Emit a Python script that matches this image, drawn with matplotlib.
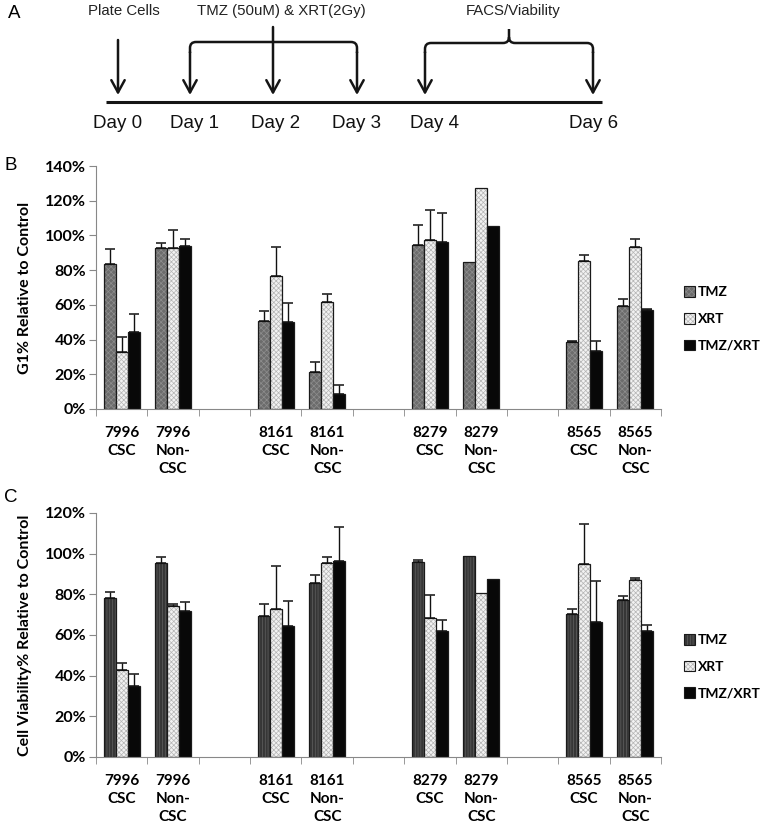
import numpy as np
import matplotlib.pyplot as plt
from matplotlib.patches import Patch, PathPatch
from matplotlib.path import Path

# categories (cell line / fraction) and treatments
categories = ['7996\nCSC', '7996\nNon-\nCSC', '8161\nCSC', '8161\nNon-\nCSC',
              '8279\nCSC', '8279\nNon-\nCSC', '8565\nCSC', '8565\nNon-\nCSC']
treatments = ['TMZ', 'XRT', 'TMZ/XRT']

# panel B: G1% relative to control (upper error only)
g1_tmz = [83.4, 92.6, 50.8, 21.5, 94.4, 84.6, 38.7, 59.1]
g1_xrt = [32.6, 92.6, 76.7, 61.4, 97.4, 127.5, 85.2, 93.2]
g1_combo = [44.3, 93.8, 49.9, 8.6, 96.3, 105.5, 33.2, 57.2]
g1_tmz_err = [8.6, 2.9, 5.4, 5.7, 11.6, 0, 0.6, 4.4]
g1_xrt_err = [8.8, 10.6, 16.7, 4.6, 17.3, 0, 3.8, 4.6]
g1_combo_err = [10.6, 4.0, 10.9, 5.4, 16.5, 0, 6.1, 0.3]

# panel C: cell viability% relative to control
via_tmz = [78.0, 95.2, 69.2, 85.6, 95.9, 98.7, 70.2, 77.0]
via_xrt = [42.6, 74.1, 72.9, 95.6, 68.2, 80.8, 94.8, 87.0]
via_combo = [35.1, 71.8, 64.4, 96.2, 61.8, 87.4, 66.4, 62.0]
via_tmz_err = [3.1, 3.2, 6.2, 4.1, 1.0, 0, 2.4, 2.2]
via_xrt_err = [3.5, 1.3, 21.0, 2.8, 11.3, 0, 19.8, 1.0]
via_combo_err = [5.9, 4.3, 12.2, 17.1, 5.6, 0, 20.3, 2.8]

# timeline (panel A)
day_labels = ['Day 0', 'Day 1', 'Day 2', 'Day 3', 'Day 4', 'Day 6']

plt.rcParams['hatch.linewidth'] = 0.5
BOLD = dict(family='Lato', fontweight='bold')

fig = plt.figure(figsize=(7.64, 8.23), dpi=100)
fig.patch.set_facecolor('white')

# ---- panel A: schematic in pixel coordinates
axa = fig.add_axes([0, 1 - 140 / 823, 1, 140 / 823])
axa.set_xlim(0, 764)
axa.set_ylim(140, 0)
axa.axis('off')
ink = '#151515'
arrow_x = [118, 190, 273, 357, 425, 593]
label_x = [118, 195, 276, 357, 434, 594]
axa.plot([106, 602], [102, 102], color=ink, lw=2.2, solid_capstyle='butt')
starts = [40, 52, 27, 52, 52, 52]
for x, y0 in zip(arrow_x, starts):
    axa.annotate('', xy=(x, 95), xytext=(x, y0),
                 arrowprops=dict(arrowstyle='->,head_length=0.55,head_width=0.3',
                                 color=ink, lw=1.8, shrinkA=0, shrinkB=0,
                                 mutation_scale=16))
for x, t in zip(label_x, day_labels):
    axa.text(x, 124, t, ha='center', va='center', fontsize=13.5,
             family='Liberation Sans', color='#111')

r = 6
b1 = Path([(190, 53), (190, 42 + r), (190, 42), (190 + r, 42), (357 - r, 42),
           (357, 42), (357, 42 + r), (357, 53)],
          [Path.MOVETO, Path.LINETO, Path.CURVE3, Path.CURVE3, Path.LINETO,
           Path.CURVE3, Path.CURVE3, Path.LINETO])
axa.add_patch(PathPatch(b1, fill=False, edgecolor=ink, lw=1.8))
b2 = Path([(425, 53), (425, 43 + r), (425, 43), (425 + r, 43), (509 - r, 43),
           (509, 43), (509, 37), (509, 29),
           (509, 37), (509, 43), (509 + r, 43), (593 - r, 43),
           (593, 43), (593, 43 + r), (593, 53)],
          [Path.MOVETO, Path.LINETO, Path.CURVE3, Path.CURVE3, Path.LINETO,
           Path.CURVE3, Path.CURVE3, Path.LINETO,
           Path.MOVETO, Path.CURVE3, Path.CURVE3, Path.LINETO,
           Path.CURVE3, Path.CURVE3, Path.LINETO])
axa.add_patch(PathPatch(b2, fill=False, edgecolor=ink, lw=1.8))
top_kw = dict(ha='center', va='center', fontsize=10.8, family='Liberation Sans', color='#222')
axa.text(124, 11, 'Plate Cells', **top_kw)
axa.text(281, 11, 'TMZ (50uM) & XRT(2Gy)', **top_kw)
axa.text(513, 11, 'FACS/Viability', **top_kw)

fig.text(8 / 764, 1 - 14 / 823, 'A', fontsize=13.5, family='Liberation Sans', va='center')
fig.text(4 / 764, 1 - 166 / 823, 'B', fontsize=13.5, family='Liberation Sans', va='center')
fig.text(4 / 764, 1 - 497 / 823, 'C', fontsize=13.5, family='Liberation Sans', va='center')


def draw_panel(ax, series, errs, styles, ymax, ylabel):
    pos = np.array([i + i // 2 for i in range(len(categories))], dtype=float)
    w = 0.235
    handles = []
    for k, (vals, err, st) in enumerate(zip(series, errs, styles)):
        x = pos + (k - 1) * w
        vals = np.array(vals)
        err = np.array(err)
        ax.bar(x, vals, w, color=st[0], hatch=st[1], edgecolor=st[2], linewidth=0)
        ax.bar(x, vals, w, fill=False, edgecolor='#1a1a1a', linewidth=0.9)
        m = err > 0
        ax.errorbar(x[m], vals[m], yerr=[np.zeros(m.sum()), err[m]], fmt='none',
                    ecolor='#111', elinewidth=1, capsize=3.5, capthick=1.1)
        handles.append((Patch(facecolor=st[0], hatch=st[1], edgecolor=st[2], linewidth=0),
                        Patch(fill=False, edgecolor='#1a1a1a', linewidth=0.8)))
    ax.set_xlim(-0.5, 10.5)
    ax.set_ylim(0, ymax)
    yt = np.arange(0, ymax + 1, 20)
    ax.set_yticks(yt)
    ax.set_yticklabels(['%d%%' % v for v in yt], **BOLD, fontsize=11.5)
    ax.set_xticks(pos)
    ax.set_xticklabels(categories, **BOLD, fontsize=11, linespacing=1.4, va='top')
    ax.set_xticks(np.arange(-0.5, 11, 1), minor=True)
    ax.tick_params(axis='x', which='major', length=0, pad=12)
    ax.tick_params(axis='x', which='minor', length=5, color='#888', direction='out')
    ax.tick_params(axis='y', length=5, color='#888', pad=2)
    for s in ['top', 'right']:
        ax.spines[s].set_visible(False)
    for s in ['left', 'bottom']:
        ax.spines[s].set_color('#888')
    ax.set_ylabel(ylabel, **BOLD, fontsize=11.5)
    ax.yaxis.set_label_coords(-0.113, 0.5)
    ax.legend(handles, treatments, loc='center left', bbox_to_anchor=(1.04, 0.37),
              frameon=False, borderpad=0, borderaxespad=0, handlelength=0.8,
              handleheight=0.8, handletextpad=0.25, labelspacing=1.05,
              prop=dict(family='Lato', weight='bold', size=10))


axb = fig.add_axes([96 / 764, 1 - 409 / 823, 565 / 764, 243 / 823])
draw_panel(axb, [g1_tmz, g1_xrt, g1_combo], [g1_tmz_err, g1_xrt_err, g1_combo_err],
           [('#6c6c6c', 'xxxxxx', '#8e8e8e'), ('#f2f2f2', 'xxxxxxx', '#b5b5b5'),
            ('#080808', None, '#080808')],
           140, 'G1% Relative to Control')

axc = fig.add_axes([96 / 764, 1 - 757 / 823, 565 / 764, 244 / 823])
draw_panel(axc, [via_tmz, via_xrt, via_combo], [via_tmz_err, via_xrt_err, via_combo_err],
           [('#363636', '||||||', '#606060'), ('#f2f2f2', 'xxxxxxx', '#b5b5b5'),
            ('#080808', None, '#080808')],
           120, 'Cell Viability% Relative to Control')

fig.savefig('out.png', dpi=100)
